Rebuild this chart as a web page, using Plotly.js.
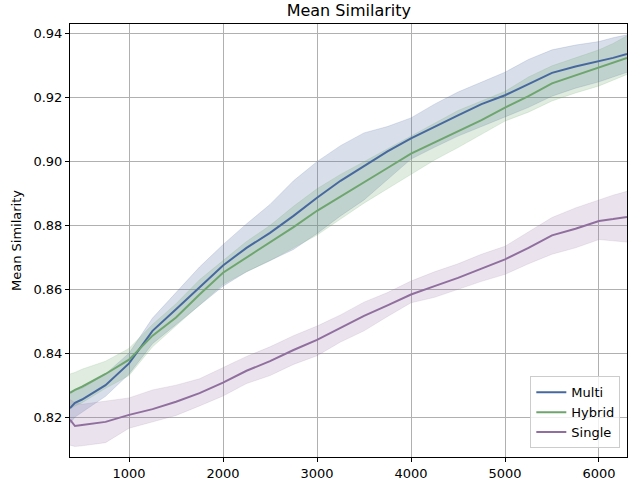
<!DOCTYPE html>
<html>
<head>
<meta charset="utf-8">
<script src="https://cdn.plot.ly/plotly-3.0.1.min.js"></script>
<style>
  html, body { margin: 0; padding: 0; background: #fff; }
  #chart { width: 640px; height: 480px; }
</style>
</head>
<body>
<div id="chart"></div>
<script>
// training steps (x)
var steps = [372, 425, 500, 750, 1000, 1250, 1500, 1750, 2000, 2250, 2500, 2750, 3000, 3250,
             3500, 3750, 4000, 4250, 4500, 4750, 5000, 5250, 5500, 5750, 6000, 6150, 6298];

var multiMean  = [0.8228, 0.8245, 0.8255, 0.8300, 0.8368, 0.8470, 0.8538, 0.8605, 0.8675, 0.8730, 0.8777, 0.8830, 0.8887, 0.8940,
                  0.8986, 0.9032, 0.9073, 0.9110, 0.9145, 0.9180, 0.9208, 0.9243, 0.9278, 0.9298, 0.9314, 0.9325, 0.9337];
var multiUpper = [0.8280, 0.8285, 0.8290, 0.8335, 0.8400, 0.8510, 0.8590, 0.8670, 0.8740, 0.8805, 0.8866, 0.8940, 0.9000, 0.9050,
                  0.9090, 0.9110, 0.9137, 0.9180, 0.9218, 0.9250, 0.9280, 0.9320, 0.9350, 0.9365, 0.9376, 0.9388, 0.9397];
var multiLower = [0.8180, 0.8200, 0.8215, 0.8265, 0.8335, 0.8430, 0.8490, 0.8550, 0.8610, 0.8655, 0.8690, 0.8725, 0.8775, 0.8830,
                  0.8880, 0.8945, 0.9008, 0.9045, 0.9080, 0.9110, 0.9140, 0.9170, 0.9205, 0.9230, 0.9250, 0.9265, 0.9280];

var hybridMean  = [0.8276, 0.8285, 0.8295, 0.8335, 0.8380, 0.8455, 0.8512, 0.8584, 0.8652, 0.8700, 0.8746, 0.8795, 0.8846, 0.8890,
                   0.8934, 0.8980, 0.9025, 0.9060, 0.9096, 0.9130, 0.9169, 0.9205, 0.9245, 0.9270, 0.9294, 0.9310, 0.9325];
var hybridUpper = [0.8335, 0.8340, 0.8350, 0.8375, 0.8415, 0.8490, 0.8555, 0.8630, 0.8690, 0.8750, 0.8800, 0.8860, 0.8915, 0.8960,
                   0.9000, 0.9040, 0.9080, 0.9120, 0.9160, 0.9190, 0.9220, 0.9265, 0.9300, 0.9325, 0.9350, 0.9370, 0.9394];
var hybridLower = [0.8225, 0.8235, 0.8245, 0.8290, 0.8330, 0.8420, 0.8486, 0.8550, 0.8616, 0.8655, 0.8690, 0.8730, 0.8770, 0.8820,
                   0.8870, 0.8915, 0.8960, 0.9005, 0.9044, 0.9085, 0.9127, 0.9155, 0.9190, 0.9215, 0.9237, 0.9255, 0.9273];

var singleMean  = [0.8192, 0.8172, 0.8175, 0.8185, 0.8207, 0.8225, 0.8248, 0.8275, 0.8308, 0.8345, 0.8375, 0.8410, 0.8442, 0.8480,
                   0.8517, 0.8550, 0.8584, 0.8610, 0.8636, 0.8665, 0.8694, 0.8730, 0.8769, 0.8790, 0.8814, 0.8820, 0.8827];
var singleUpper = [0.8255, 0.8245, 0.8240, 0.8250, 0.8260, 0.8285, 0.8300, 0.8320, 0.8356, 0.8390, 0.8420, 0.8455, 0.8485, 0.8520,
                   0.8560, 0.8590, 0.8626, 0.8655, 0.8680, 0.8710, 0.8735, 0.8780, 0.8825, 0.8855, 0.8881, 0.8895, 0.8907];
var singleLower = [0.8112, 0.8108, 0.8110, 0.8120, 0.8165, 0.8185, 0.8205, 0.8235, 0.8266, 0.8305, 0.8330, 0.8365, 0.8392, 0.8435,
                   0.8470, 0.8515, 0.8558, 0.8575, 0.8600, 0.8625, 0.8647, 0.8680, 0.8710, 0.8730, 0.8756, 0.8752, 0.8748];

var series = [
    { name: 'Multi',  mean: multiMean,  upper: multiUpper,  lower: multiLower,
      line: '#46689e', fill: 'rgba(76,106,160,0.22)' },
    { name: 'Hybrid', mean: hybridMean, upper: hybridUpper, lower: hybridLower,
      line: '#6ea56e', fill: 'rgba(110,170,110,0.22)' },
    { name: 'Single', mean: singleMean, upper: singleUpper, lower: singleLower,
      line: '#906f9f', fill: 'rgba(150,115,165,0.2)' }
];

var traces = [];
series.forEach(function (s) {
    // band: upper edge, then lower edge filled back to it
    traces.push({
        x: steps, y: s.upper, type: 'scatter', mode: 'lines',
        line: { color: s.fill, width: 0.8 },
        showlegend: false, hoverinfo: 'skip'
    });
    traces.push({
        x: steps, y: s.lower, type: 'scatter', mode: 'lines',
        line: { color: s.fill, width: 0.8 },
        fill: 'tonexty', fillcolor: s.fill,
        showlegend: false, hoverinfo: 'skip'
    });
});
series.forEach(function (s) {
    traces.push({
        x: steps, y: s.mean, type: 'scatter', mode: 'lines',
        name: s.name,
        line: { color: s.line, width: 2 }
    });
});

var axisStyle = {
    showline: true, linecolor: '#000', linewidth: 1, mirror: true,
    ticks: 'outside', ticklen: 4, tickcolor: '#000',
    showgrid: true, gridcolor: '#b0b0b0', gridwidth: 1,
    zeroline: false,
    tickfont: { family: 'DejaVu Sans', size: 13, color: '#000' }
};

var layout = {
    width: 640, height: 480,
    margin: { l: 70, r: 13, t: 24, b: 23 },
    paper_bgcolor: '#fff', plot_bgcolor: '#fff',
    font: { family: 'DejaVu Sans', size: 13, color: '#000' },
    title: { text: 'Mean Similarity', x: 0.545, xanchor: 'center', y: 0.978, yanchor: 'middle',
             font: { family: 'DejaVu Sans', size: 16, color: '#000' } },
    xaxis: Object.assign({}, axisStyle, {
        range: [372, 6298], tickmode: 'linear', tick0: 0, dtick: 1000
    }),
    yaxis: Object.assign({}, axisStyle, {
        range: [0.8075, 0.9431], tickmode: 'linear', tick0: 0.8, dtick: 0.02, tickformat: '.2f',
        title: { text: 'Mean Similarity', standoff: 8, font: { family: 'DejaVu Sans', size: 13 } }
    }),
    legend: {
        x: 0.988, y: 0.02, xanchor: 'right', yanchor: 'bottom',
        traceorder: 'normal',
        bgcolor: 'rgba(255,255,255,0.8)', bordercolor: '#cccccc', borderwidth: 1,
        font: { family: 'DejaVu Sans', size: 13 }
    },
    showlegend: true
};

Plotly.newPlot(document.getElementById('chart'), traces, layout, { displayModeBar: false, staticPlot: true });
</script>
</body>
</html>
